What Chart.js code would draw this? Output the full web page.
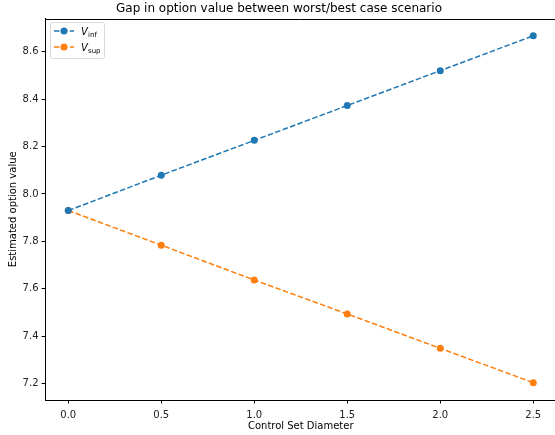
<!DOCTYPE html>
<html lang="en">
<head>
  <meta charset="UTF-8" />
  <title>Gap in option value</title>
  <script src="https://cdn.jsdelivr.net/npm/chart.js"></script>
  <style>
    html, body { margin: 0; padding: 0; background: #fff; overflow: hidden; }
    #wrap { position: relative; width: 560px; height: 435px; }
  </style>
</head>
<body>
  <div id="wrap"><canvas id="gapChart"></canvas></div>
  <script>
    // data
    const diameters = [0.0, 0.5, 1.0, 1.5, 2.0, 2.5];
    const vInf = [7.930, 8.079, 8.226, 8.373, 8.520, 8.667];
    const vSup = [7.930, 7.784, 7.637, 7.494, 7.349, 7.204];
    const xTicks = [0.0, 0.5, 1.0, 1.5, 2.0, 2.5];
    const yTicks = [7.2, 7.4, 7.6, 7.8, 8.0, 8.2, 8.4, 8.6];

    const FONT = "'DejaVu Sans', sans-serif";
    const BLUE = '#1f77b4';
    const ORANGE = '#ff7f0e';

    // top/right spines, like matplotlib's box
    const framePlugin = {
      id: 'frame',
      afterDraw(chart) {
        const { ctx, chartArea: a } = chart;
        ctx.save();
        ctx.strokeStyle = '#000';
        ctx.lineWidth = 1;
        ctx.beginPath();
        ctx.moveTo(a.left, Math.round(a.top) + 0.5);
        ctx.lineTo(a.right, Math.round(a.top) + 0.5);
        ctx.lineTo(a.right, a.bottom);
        ctx.stroke();
        ctx.restore();
      }
    };

    const legendPlugin = {
      id: 'mplLegend',
      afterDraw(chart) {
        const ctx = chart.ctx;
        const x0 = 50, y0 = 22, w = 54, h = 36;
        ctx.save();
        ctx.beginPath();
        ctx.roundRect(x0 + 0.5, y0 + 0.5, w, h, 2);
        ctx.fillStyle = 'rgba(255,255,255,0.8)';
        ctx.fill();
        ctx.strokeStyle = '#d9d9d9';
        ctx.lineWidth = 1;
        ctx.stroke();

        const items = [
          { color: BLUE, sub: 'inf', y: 31 },
          { color: ORANGE, sub: 'sup', y: 47 }
        ];
        items.forEach(it => {
          ctx.strokeStyle = it.color;
          ctx.lineWidth = 1.5;
          ctx.setLineDash([5.5, 2.4]);
          ctx.beginPath();
          ctx.moveTo(54, it.y);
          ctx.lineTo(74, it.y);
          ctx.stroke();
          ctx.setLineDash([]);
          ctx.fillStyle = it.color;
          ctx.beginPath();
          ctx.arc(64, it.y, 3.5, 0, Math.PI * 2);
          ctx.fill();

          ctx.fillStyle = '#000';
          ctx.textBaseline = 'alphabetic';
          ctx.textAlign = 'left';
          ctx.font = 'italic 10px ' + FONT;
          ctx.fillText('V', 81, it.y + 3.5);
          ctx.font = '7px ' + FONT;
          ctx.fillText(it.sub, 88, it.y + 6);
        });
        ctx.restore();
      }
    };

    const makeDataset = (label, values, color) => ({
      label,
      data: diameters.map((d, i) => ({ x: d, y: values[i] })),
      borderColor: color,
      backgroundColor: color,
      borderWidth: 1.5,
      borderDash: [5.5, 2.4],
      pointRadius: 3.5,
      pointHoverRadius: 3.5,
      pointBorderWidth: 0,
      tension: 0,
      fill: false
    });

    new Chart(document.getElementById('gapChart'), {
      type: 'line',
      data: {
        datasets: [
          makeDataset('V_inf', vInf, BLUE),
          makeDataset('V_sup', vSup, ORANGE)
        ]
      },
      plugins: [framePlugin, legendPlugin],
      options: {
        responsive: true,
        maintainAspectRatio: false,
        animation: false,
        layout: { padding: { left: 0, right: 2, top: 0, bottom: 0 } },
        plugins: {
          legend: { display: false },
          tooltip: { enabled: false },
          title: {
            display: true,
            text: 'Gap in option value between worst/best case scenario',
            color: '#000',
            font: { family: FONT, size: 12, weight: 'normal' },
            padding: { top: 1.5, bottom: 2.6 }
          }
        },
        scales: {
          x: {
            type: 'linear',
            min: -0.125,
            max: 2.625,
            afterBuildTicks: s => { s.ticks = xTicks.map(v => ({ value: v })); },
            afterFit: s => { s.height = 35; },
            border: { color: '#000', width: 1 },
            grid: { drawOnChartArea: false, drawTicks: true, tickLength: 3.5, color: '#000' },
            ticks: {
              color: '#222',
              font: { family: FONT, size: 10 },
              padding: 6,
              maxRotation: 0,
              callback: v => v.toFixed(1)
            },
            title: {
              display: true,
              text: 'Control Set Diameter',
              color: '#000',
              font: { family: FONT, size: 10 },
              padding: { top: 1, bottom: 3 }
            }
          },
          y: {
            type: 'linear',
            min: 7.131,
            max: 8.740,
            afterBuildTicks: s => { s.ticks = yTicks.map(v => ({ value: v })); },
            afterFit: s => { s.width = 45; },
            border: { color: '#000', width: 1 },
            grid: { drawOnChartArea: false, drawTicks: true, tickLength: 3.5, color: '#000' },
            ticks: {
              color: '#222',
              font: { family: FONT, size: 10 },
              padding: 3,
              callback: v => v.toFixed(1)
            },
            title: {
              display: true,
              text: 'Estimated option value',
              color: '#000',
              font: { family: FONT, size: 10 },
              padding: { top: 7, bottom: 2 }
            }
          }
        }
      }
    });
  </script>
</body>
</html>
